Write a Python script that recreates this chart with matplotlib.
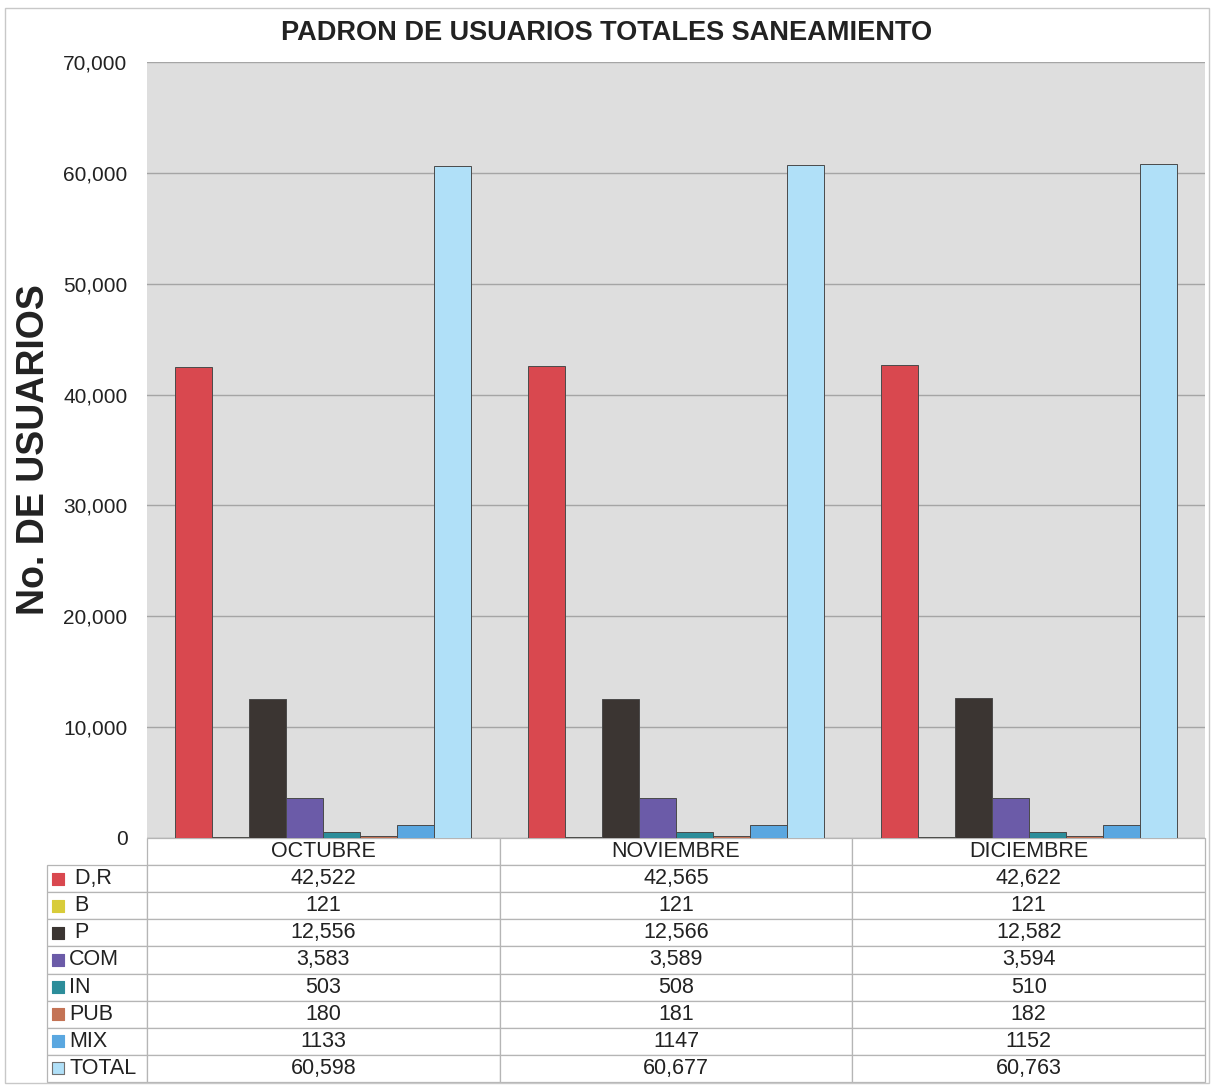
import numpy as np
import matplotlib.pyplot as plt
from matplotlib.ticker import FuncFormatter

plt.rcParams['font.family'] = ['Liberation Sans', 'DejaVu Sans']

# Datos
meses = ['OCTUBRE', 'NOVIEMBRE', 'DICIEMBRE']
series = [' D,R', ' B', ' P', 'COM', 'IN', 'PUB', 'MIX', 'TOTAL']
d_r = [42522, 42565, 42622]
b = [121, 121, 121]
p = [12556, 12566, 12582]
com = [3583, 3589, 3594]
ind = [503, 508, 510]
pub = [180, 181, 182]
mix = [1133, 1147, 1152]
total = [60598, 60677, 60763]
valores = [d_r, b, p, com, ind, pub, mix, total]

colores = ['#d9484f', '#d8cc3a', '#3b3532', '#6b5ba8', '#2c8d9a', '#c47355', '#5aa7e0', '#b0e0f8']

fig = plt.figure(figsize=(12.14, 10.87), dpi=100)
fig.patch.set_facecolor('white')
ax = fig.add_axes([0.1211, 0.2291, 0.8715, 0.7139])
ax.set_facecolor('#dedede')

x = np.arange(len(meses))
w = 0.105
for i, vals in enumerate(valores):
    off = (i - (len(valores) - 1) / 2) * w
    ax.bar(x + off, vals, width=w, color=colores[i], edgecolor='#4a4a4a',
           linewidth=0.7, zorder=3)

ax.set_xlim(-0.5, 2.5)
ax.set_ylim(0, 70000)
ax.set_yticks(np.arange(0, 70001, 10000))
ax.yaxis.set_major_formatter(FuncFormatter(lambda v, _: f'{int(v):,}'))
ax.tick_params(axis='y', length=0, labelsize=15, pad=14, labelcolor='#222222')
ax.set_xticks([])
ax.grid(axis='y', color='#a5a5a5', linewidth=1, zorder=1)
for s in ax.spines.values():
    s.set_visible(False)

ax.set_ylabel('No. DE USUARIOS', fontsize=27, fontweight='bold', color='#222222')
ax.yaxis.set_label_coords(-0.09, 0.5)
fig.text(0.5, 0.97, 'PADRON DE USUARIOS TOTALES SANEAMIENTO', ha='center',
         va='center', fontsize=19.5, fontweight='bold', color='#222222')

# Tabla de datos
filas = []
for nombre, vals in zip(series, valores):
    if nombre == 'MIX':
        filas.append([nombre] + [f'{v}' for v in vals])
    else:
        filas.append([nombre] + [f'{v:,}' for v in vals])
celdas = [[''] + meses] + filas

leg_w = 100 / 1058
tab_h = 244 / 776
tab = ax.table(cellText=celdas, cellLoc='center',
               colWidths=[leg_w, 1 / 3, 1 / 3, 1 / 3],
               bbox=[-leg_w, -tab_h, 1 + leg_w, tab_h])
tab.auto_set_font_size(False)
tab.set_fontsize(15.5)
for (r, c), cell in tab.get_celld().items():
    cell.set_edgecolor('#b5b5b5')
    cell.set_linewidth(0.9)
    cell.set_facecolor('white')
    cell.get_text().set_color('#222222')
    if c == 0:
        cell.get_text().set_ha('left')
        cell.PAD = 0.22
    if r == 0 and c == 0:
        cell.visible_edges = ''

# marcadores de la leyenda
h = tab_h / len(celdas)
for i, col in enumerate(colores):
    yc = -(i + 1.5) * h
    ec = '#707070' if i == len(colores) - 1 else col
    ax.scatter([-leg_w + 0.0105], [yc], marker='s', s=64, color=col,
               edgecolors=ec, linewidths=0.8, transform=ax.transAxes,
               clip_on=False, zorder=5)

# borde exterior
fig.patches.append(plt.Rectangle((0.004, 0.004), 0.992, 0.989, transform=fig.transFigure,
                                 fill=False, edgecolor='#c8c8c8', linewidth=1))

fig.savefig('out.png', dpi=100)
